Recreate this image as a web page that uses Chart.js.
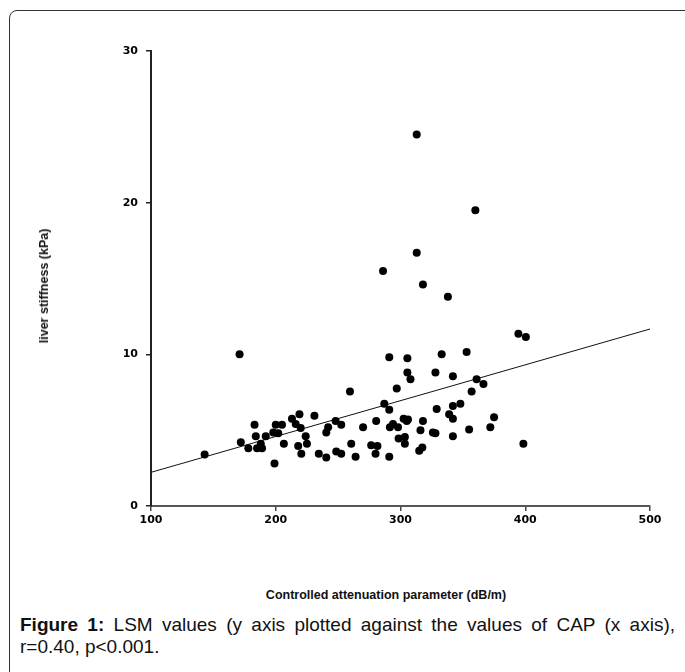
<!DOCTYPE html>
<html>
<head>
<meta charset="utf-8">
<script src="https://cdn.jsdelivr.net/npm/chart.js@4.4.1/dist/chart.umd.min.js"></script>
<style>
  html, body { margin: 0; padding: 0; background: #fff; }
  body { width: 685px; height: 672px; position: relative; overflow: hidden; }
  .frame {
    position: absolute; left: 9px; top: 10px; width: 700px; height: 720px;
    border: 1.5px solid #333; border-radius: 8px; box-sizing: border-box;
  }
  #chart { position: absolute; left: 0; top: 0; }
  .xtitle {
    position: absolute; left: 386px; top: 588px; white-space: nowrap;
    font: bold 12.5px "Liberation Sans", Arial, sans-serif; color: #111;
    transform: translateX(-50%);
  }
  .ytitle {
    position: absolute; left: 44px; top: 286px; white-space: nowrap;
    font: bold 12.5px "Liberation Sans", Arial, sans-serif; color: #111;
    transform: translate(-50%, -50%) rotate(-90deg);
  }
  .caption {
    position: absolute; left: 20px; top: 614px; width: 655px;
    font-family: "Liberation Sans", Arial, sans-serif;
    font-size: 19px; line-height: 22px; color: #111;
  }
  .caption .l1 { white-space: nowrap; text-align: justify; text-align-last: justify; }
</style>
</head>
<body>
<div class="frame"></div>
<canvas id="chart" width="685" height="545"></canvas>
<div class="xtitle">Controlled attenuation parameter (dB/m)</div>
<div class="ytitle">liver stiffness (kPa)</div>
<div class="caption">
  <div class="l1"><b>Figure 1:</b> LSM values (y axis plotted against the values of CAP (x axis),</div>
  <div>r=0.40, p&lt;0.001.</div>
</div>

<script>
// ---------- DATA ----------
// CAP (dB/m)
const capValues = [
  143, 171, 172, 178, 183, 184, 185, 188, 189, 192,
  198, 200, 202, 205, 206.5, 199, 213, 216, 219, 220,
  218, 220.5, 224, 225, 231, 234.5, 240.5, 242, 240.5, 248,
  248.5, 252.5, 252.5, 259.5, 260.5, 264, 270, 276.5, 280.5, 281.5,
  280, 287, 291, 291, 291.5, 294, 291, 297, 298, 298.5,
  303.5, 303.5, 302.5, 305, 306, 305.5, 305.5, 308, 316, 317.5,
  315, 318, 326, 328, 328, 329, 333, 339, 342, 342,
  342, 342, 348, 353, 355, 357, 361, 366.5, 372, 375,
  394.5, 400.5, 398.5,
  286, 313, 313, 318, 338, 360
];
// liver stiffness (kPa)
const lsmValues = [
  3.4, 10.0, 4.2, 3.8, 5.35, 4.6, 3.8, 4.1, 3.8, 4.6,
  4.85, 5.35, 4.8, 5.35, 4.1, 2.8, 5.75, 5.4, 6.05, 5.15,
  3.95, 3.45, 4.6, 4.1, 5.95, 3.45, 4.85, 5.2, 3.2, 5.6,
  3.6, 5.35, 3.45, 7.55, 4.1, 3.25, 5.2, 4.0, 5.6, 3.95,
  3.45, 6.75, 9.8, 6.35, 5.2, 5.4, 3.25, 7.75, 5.2, 4.45,
  4.55, 4.1, 5.75, 5.6, 5.7, 9.75, 8.8, 8.35, 5.0, 3.85,
  3.65, 5.6, 4.85, 4.8, 8.8, 6.4, 10.0, 6.05, 5.75, 6.6,
  8.55, 4.6, 6.75, 10.15, 5.05, 7.55, 8.35, 8.05, 5.2, 5.85,
  11.35, 11.15, 4.1,
  15.5, 24.5, 16.7, 14.6, 13.8, 19.5
];

// regression line end points
const fitX = [100, 500];
const fitY = [2.22, 11.67];

// tick labels
const xTicks = [100, 200, 300, 400, 500];
const yTicks = [0, 10, 20, 30];

// ---------- CHART ----------
const points = capValues.map((x, i) => ({ x: x, y: lsmValues[i] }));
const fitLine = fitX.map((x, i) => ({ x: x, y: fitY[i] }));

const tickFont = { family: "'DejaVu Sans', sans-serif", size: 11, weight: "bold" };

new Chart(document.getElementById("chart").getContext("2d"), {
  type: "scatter",
  data: {
    datasets: [
      {
        label: "fit",
        data: fitLine,
        showLine: true,
        borderColor: "#111",
        borderWidth: 1,
        pointRadius: 0,
        order: 2,
      },
      {
        label: "LSM",
        data: points,
        backgroundColor: "#000",
        borderColor: "#000",
        borderWidth: 0,
        pointRadius: 4,
        order: 1,
      },
    ],
  },
  options: {
    responsive: false,
    animation: false,
    layout: { padding: { left: 0, right: 35, top: 51, bottom: 9 } },
    plugins: { legend: { display: false }, tooltip: { enabled: false } },
    scales: {
      x: {
        type: "linear",
        min: 100,
        max: 500,
        afterBuildTicks: (s) => { s.ticks = xTicks.map((v) => ({ value: v })); },
        afterFit: (s) => { s.height = 30; },
        ticks: { color: "#000", font: tickFont, padding: 3 },
        grid: { drawOnChartArea: false, tickLength: 5, color: "#444", lineWidth: 1.5 },
        border: { color: "#555", width: 2 },
      },
      y: {
        min: 0,
        max: 30,
        afterBuildTicks: (s) => { s.ticks = yTicks.map((v) => ({ value: v })); },
        afterFit: (s) => { s.width = 151; },
        ticks: { color: "#000", font: tickFont, padding: 8 },
        grid: { drawOnChartArea: false, tickLength: 5, color: "#222", lineWidth: 1.5 },
        border: { color: "#222", width: 2 },
      },
    },
  },
});
</script>
</body>
</html>
